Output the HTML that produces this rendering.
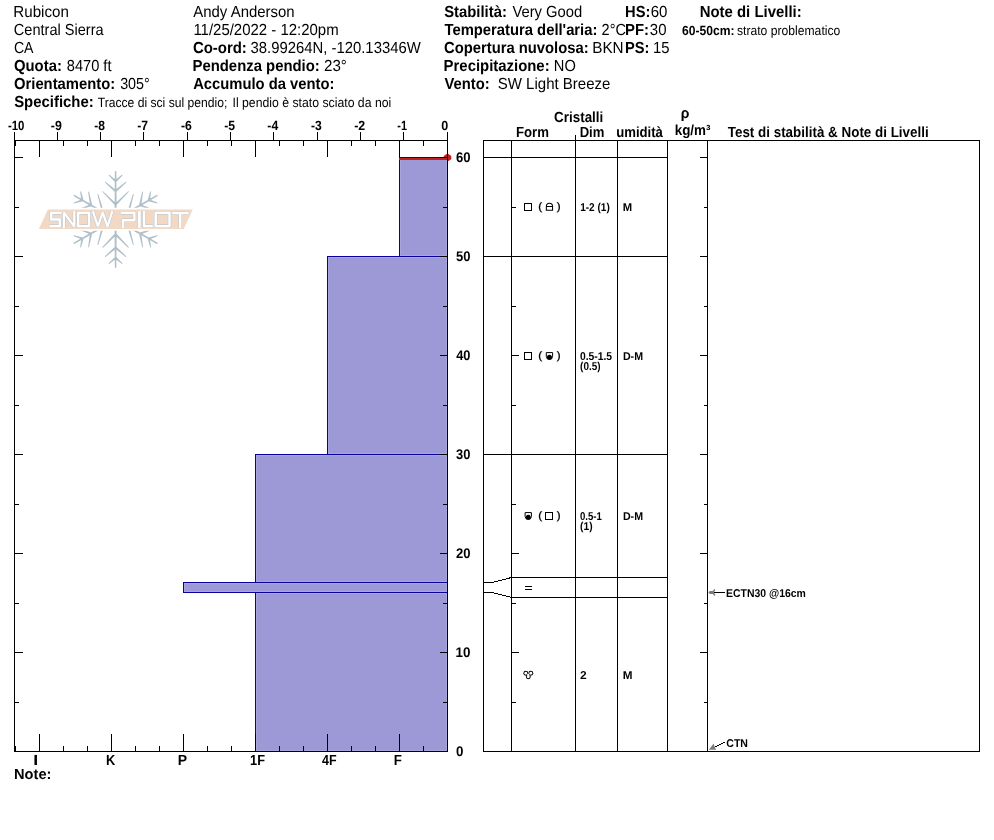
<!DOCTYPE html>
<html><head><meta charset="utf-8"><title>Snow Profile</title>
<style>
html,body{margin:0;padding:0;background:#fff;}
body{width:994px;height:840px;overflow:hidden;font-family:"Liberation Sans",sans-serif;}
svg{display:block;font-family:"Liberation Sans",sans-serif;}
svg text{white-space:pre;text-rendering:geometricPrecision;}
svg{will-change:transform;}
</style></head><body>
<svg width="994" height="840" viewBox="0 0 994 840">
<rect width="994" height="840" fill="#fff"/>
<text x="13.37" y="17" font-size="16" textLength="55.47" lengthAdjust="spacingAndGlyphs">Rubicon</text>
<text x="13.87" y="35" font-size="16" textLength="89.73" lengthAdjust="spacingAndGlyphs">Central Sierra</text>
<text x="13.89" y="53" font-size="16" textLength="19.61" lengthAdjust="spacingAndGlyphs">CA</text>
<text x="14.0" y="71" font-size="16" font-weight="bold" textLength="47.84" lengthAdjust="spacingAndGlyphs">Quota:</text>
<text x="66.81" y="71" font-size="16" textLength="44.68" lengthAdjust="spacingAndGlyphs">8470 ft</text>
<text x="14.0" y="89" font-size="16" font-weight="bold" textLength="101.13" lengthAdjust="spacingAndGlyphs">Orientamento:</text>
<text x="120.16" y="89" font-size="16" textLength="29.59" lengthAdjust="spacingAndGlyphs">305°</text>
<text x="14.18" y="107" font-size="16" font-weight="bold" textLength="79.56" lengthAdjust="spacingAndGlyphs">Specifiche:</text>
<text x="97.73" y="107" font-size="13.33" textLength="129.6" lengthAdjust="spacingAndGlyphs">Tracce di sci sul pendio;</text>
<text x="232.5" y="107" font-size="13.33" textLength="158.78" lengthAdjust="spacingAndGlyphs">Il pendio è stato sciato da noi</text>
<text x="193.3" y="17" font-size="16" textLength="101.31" lengthAdjust="spacingAndGlyphs">Andy Anderson</text>
<text x="193.39" y="35" font-size="16" textLength="145.27" lengthAdjust="spacingAndGlyphs">11/25/2022 - 12:20pm</text>
<text x="192.89" y="53" font-size="16" font-weight="bold" textLength="53.96" lengthAdjust="spacingAndGlyphs">Co-ord:</text>
<text x="250.54" y="53" font-size="16" textLength="170.2" lengthAdjust="spacingAndGlyphs">38.99264N, -120.13346W</text>
<text x="192.52" y="71" font-size="16" font-weight="bold" textLength="127.22" lengthAdjust="spacingAndGlyphs">Pendenza pendio:</text>
<text x="324.04" y="71" font-size="16" textLength="22.85" lengthAdjust="spacingAndGlyphs">23°</text>
<text x="193.13" y="89" font-size="16" font-weight="bold" textLength="141.2" lengthAdjust="spacingAndGlyphs">Accumulo da vento:</text>
<text x="444.18" y="17" font-size="16" font-weight="bold" textLength="62.65" lengthAdjust="spacingAndGlyphs">Stabilità:</text>
<text x="512.45" y="17" font-size="16" textLength="69.85" lengthAdjust="spacingAndGlyphs">Very Good</text>
<text x="625.04" y="17" font-size="16" font-weight="bold" textLength="25.29" lengthAdjust="spacingAndGlyphs">HS:</text>
<text x="650.75" y="17" font-size="16" textLength="16.71" lengthAdjust="spacingAndGlyphs">60</text>
<text x="444.46" y="35" font-size="16" font-weight="bold" textLength="152.94" lengthAdjust="spacingAndGlyphs">Temperatura dell'aria:</text>
<text x="601.57" y="35" font-size="16" textLength="24.37" lengthAdjust="spacingAndGlyphs">2°C</text>
<text x="625.02" y="35" font-size="16" font-weight="bold" textLength="23.91" lengthAdjust="spacingAndGlyphs">PF:</text>
<text x="649.84" y="35" font-size="16" textLength="16.62" lengthAdjust="spacingAndGlyphs">30</text>
<text x="444.0" y="53" font-size="16" font-weight="bold" textLength="144.63" lengthAdjust="spacingAndGlyphs">Copertura nuvolosa:</text>
<text x="592.26" y="53" font-size="16" textLength="31.38" lengthAdjust="spacingAndGlyphs">BKN</text>
<text x="625.04" y="53" font-size="16" font-weight="bold" textLength="24.38" lengthAdjust="spacingAndGlyphs">PS:</text>
<text x="652.99" y="53" font-size="16" textLength="16.52" lengthAdjust="spacingAndGlyphs">15</text>
<text x="443.62" y="71" font-size="16" font-weight="bold" textLength="106.02" lengthAdjust="spacingAndGlyphs">Precipitazione:</text>
<text x="553.81" y="71" font-size="16" textLength="21.98" lengthAdjust="spacingAndGlyphs">NO</text>
<text x="444.51" y="89" font-size="16" font-weight="bold" textLength="45.19" lengthAdjust="spacingAndGlyphs">Vento:</text>
<text x="497.74" y="89" font-size="16" textLength="112.71" lengthAdjust="spacingAndGlyphs">SW Light Breeze</text>
<text x="699.72" y="17" font-size="16" font-weight="bold" textLength="101.92" lengthAdjust="spacingAndGlyphs">Note di Livelli:</text>
<text x="681.99" y="35" font-size="13.33" font-weight="bold" textLength="52.54" lengthAdjust="spacingAndGlyphs">60-50cm:</text>
<text x="736.98" y="35" font-size="13.33" textLength="103.32" lengthAdjust="spacingAndGlyphs">strato problematico</text>
<text x="14.05" y="779" font-size="14.67" font-weight="bold" textLength="37.34" lengthAdjust="spacingAndGlyphs">Note:</text>
<defs><filter id="soft" x="-5%" y="-5%" width="110%" height="110%"><feGaussianBlur stdDeviation="0.35"/></filter></defs>
<g id="logo" filter="url(#soft)">
<path d="M114.45 219.40L114.85 171.30L115.60 170.90L116.35 171.30L116.75 219.40ZM114.87 180.28L121.88 174.85L122.50 174.93L122.52 175.55L116.33 181.92ZM114.87 181.92L108.68 175.55L108.70 174.93L109.32 174.85L116.33 180.28ZM113.70 179.50L115.60 178.30L117.50 179.50L115.60 182.90ZM114.88 190.26L125.69 181.84L126.30 181.94L126.31 182.56L116.32 191.94ZM114.88 191.94L104.89 182.56L104.90 181.94L105.51 181.84L116.32 190.26ZM113.70 189.50L115.60 188.30L117.50 189.50L115.60 192.90ZM114.82 203.83L128.16 191.17L128.78 191.21L128.84 191.83L116.38 205.37ZM114.82 205.37L102.36 191.83L102.42 191.21L103.04 191.17L116.38 203.83ZM113.70 203.00L115.60 201.80L117.50 203.00L115.60 206.40ZM115.02 220.40L73.57 196.00L73.60 195.15L74.32 194.70L116.17 218.40ZM81.35 200.47L80.16 191.68L80.54 191.19L81.09 191.49L83.51 200.03ZM82.77 201.29L74.17 203.47L73.64 203.14L73.87 202.56L82.09 199.21ZM80.10 201.10L80.01 198.85L82.00 197.80L83.99 201.15ZM90.01 205.45L88.12 191.88L88.51 191.40L89.05 191.71L92.17 205.05ZM91.46 206.29L78.34 210.25L77.81 209.94L78.03 209.36L90.73 204.21ZM88.76 206.10L88.67 203.85L90.66 202.80L92.65 206.15ZM101.72 212.29L97.43 194.40L97.78 193.89L98.35 194.15L103.84 211.71ZM103.06 213.06L85.11 217.08L84.60 216.72L84.87 216.16L102.51 210.94ZM100.45 212.85L100.36 210.60L102.35 209.55L104.34 212.90ZM116.17 220.40L74.32 244.10L73.60 243.65L73.57 242.80L115.02 218.40ZM82.09 239.59L73.87 236.24L73.64 235.66L74.17 235.33L82.77 237.51ZM83.51 238.77L81.09 247.31L80.54 247.61L80.16 247.12L81.35 238.33ZM82.00 241.00L80.01 239.95L80.10 237.70L83.99 237.65ZM90.73 234.59L78.03 229.44L77.81 228.86L78.34 228.55L91.46 232.51ZM92.17 233.75L89.05 247.09L88.51 247.40L88.12 246.92L90.01 233.35ZM90.66 236.00L88.67 234.95L88.76 232.70L92.65 232.65ZM102.51 227.86L84.87 222.64L84.60 222.08L85.11 221.72L103.06 225.74ZM103.84 227.09L98.35 244.65L97.78 244.91L97.43 244.40L101.72 226.51ZM102.35 229.25L100.36 228.20L100.45 225.95L104.34 225.90ZM116.75 219.40L116.35 267.50L115.60 267.90L114.85 267.50L114.45 219.40ZM116.33 258.52L109.32 263.95L108.70 263.87L108.68 263.25L114.87 256.88ZM116.33 256.88L122.52 263.25L122.50 263.87L121.88 263.95L114.87 258.52ZM117.50 259.30L115.60 260.50L113.70 259.30L115.60 255.90ZM116.32 248.54L105.51 256.96L104.90 256.86L104.89 256.24L114.88 246.86ZM116.32 246.86L126.31 256.24L126.30 256.86L125.69 256.96L114.88 248.54ZM117.50 249.30L115.60 250.50L113.70 249.30L115.60 245.90ZM116.38 234.97L103.04 247.63L102.42 247.59L102.36 246.97L114.82 233.43ZM116.38 233.43L128.84 246.97L128.78 247.59L128.16 247.63L114.82 234.97ZM117.50 235.80L115.60 237.00L113.70 235.80L115.60 232.40ZM116.17 218.40L157.63 242.80L157.60 243.65L156.88 244.10L115.02 220.40ZM149.85 238.33L151.04 247.12L150.66 247.61L150.11 247.31L147.69 238.77ZM148.43 237.51L157.03 235.33L157.56 235.66L157.33 236.24L149.11 239.59ZM151.10 237.70L151.19 239.95L149.20 241.00L147.21 237.65ZM141.19 233.35L143.08 246.92L142.69 247.40L142.15 247.09L139.03 233.75ZM139.74 232.51L152.86 228.55L153.39 228.86L153.17 229.44L140.47 234.59ZM142.44 232.70L142.53 234.95L140.54 236.00L138.55 232.65ZM129.48 226.51L133.77 244.40L133.42 244.91L132.85 244.65L127.36 227.09ZM128.14 225.74L146.09 221.72L146.60 222.08L146.33 222.64L128.69 227.86ZM130.75 225.95L130.84 228.20L128.85 229.25L126.86 225.90ZM115.02 218.40L156.88 194.70L157.60 195.15L157.63 196.00L116.17 220.40ZM149.11 199.21L157.33 202.56L157.56 203.14L157.03 203.47L148.43 201.29ZM147.69 200.03L150.11 191.49L150.66 191.19L151.04 191.68L149.85 200.47ZM149.20 197.80L151.19 198.85L151.10 201.10L147.21 201.15ZM140.47 204.21L153.17 209.36L153.39 209.94L152.86 210.25L139.74 206.29ZM139.03 205.05L142.15 191.71L142.69 191.40L143.08 191.88L141.19 205.45ZM140.54 202.80L142.53 203.85L142.44 206.10L138.55 206.15ZM128.69 210.94L146.33 216.16L146.60 216.72L146.09 217.08L128.14 213.06ZM127.36 211.71L132.85 194.15L133.42 193.89L133.77 194.40L129.48 212.29ZM128.85 209.55L130.84 210.60L130.75 212.85L126.86 212.90Z" fill="#b0c0ca" stroke="none"/>
<polygon points="45.4,207.7 195.6,207.7 184.8,230.8 34.6,230.8" fill="#fff"/>
<polygon points="47.9,209.5 192.8,209.5 183.7,229 38.8,229" fill="#f1d9c5"/>
<path d="M61.50 212.80L51.20 212.80L51.20 219.60L59.80 219.60L59.80 226.20L49.50 226.20M78.20 212.80L89.10 212.80L89.10 226.20L78.20 226.20L78.20 212.80L89.10 212.80M123.00 227.90L123.00 220.20L134.40 220.20L134.40 212.80L121.10 212.80M144.05 211.10L144.05 226.20L152.80 226.20M155.70 212.80L169.50 212.80L169.50 226.20L155.70 226.20L155.70 212.80L169.50 212.80M172.20 212.90L188.70 212.90M180.20 212.80L180.20 227.90" stroke="#b6c2cc" stroke-width="3.4" fill="none" stroke-linejoin="round"/>
<path d="M63.90 227.90L63.90 212.40L74.30 226.60L74.30 211.10M92.90 211.10L97.90 226.50L102.60 212.50L107.60 226.50L112.30 211.10" stroke="#b6c2cc" stroke-width="3.2" fill="none" stroke-linejoin="bevel"/>
<path d="M139.30 211.10L139.30 227.90" stroke="#b6c2cc" stroke-width="3.9" fill="none"/>
<path d="M61.50 212.80L51.20 212.80L51.20 219.60L59.80 219.60L59.80 226.20L49.50 226.20M78.20 212.80L89.10 212.80L89.10 226.20L78.20 226.20L78.20 212.80L89.10 212.80M123.00 227.90L123.00 220.20L134.40 220.20L134.40 212.80L121.10 212.80M144.05 211.10L144.05 226.20L152.80 226.20M155.70 212.80L169.50 212.80L169.50 226.20L155.70 226.20L155.70 212.80L169.50 212.80M172.20 212.90L188.70 212.90M180.20 212.80L180.20 227.90" stroke="#fff" stroke-width="2.5" fill="none" stroke-linejoin="round"/>
<path d="M63.90 227.90L63.90 212.40L74.30 226.60L74.30 211.10M92.90 211.10L97.90 226.50L102.60 212.50L107.60 226.50L112.30 211.10" stroke="#fff" stroke-width="2.3" fill="none" stroke-linejoin="bevel"/>
<path d="M139.30 211.10L139.30 227.90" stroke="#fff" stroke-width="3.0" fill="none"/>
</g>
<polygon points="447,153.8 448,153.8 451.3,156.1 451.3,159.3 448,161.3 447,161.3 443.7,159.3 443.7,156.1" fill="#bf1f1f"/>
<g id="chart" shape-rendering="crispEdges">
<rect x="399.5" y="157.5" width="48" height="99" fill="#9c99d6" stroke="#0a00a0" stroke-width="1"/>
<rect x="400.5" y="158.5" width="46" height="97" fill="none" stroke="#a8a6dd" stroke-width="1"/>
<rect x="327.5" y="256.5" width="120" height="198" fill="#9c99d6" stroke="#0a00a0" stroke-width="1"/>
<rect x="328.5" y="257.5" width="118" height="196" fill="none" stroke="#a8a6dd" stroke-width="1"/>
<rect x="255.5" y="454.5" width="192" height="128" fill="#9c99d6" stroke="#0a00a0" stroke-width="1"/>
<rect x="256.5" y="455.5" width="190" height="126" fill="none" stroke="#a8a6dd" stroke-width="1"/>
<rect x="183.5" y="582.5" width="264" height="10" fill="#9c99d6" stroke="#0a00a0" stroke-width="1"/>
<rect x="184.5" y="583.5" width="262" height="8" fill="none" stroke="#a8a6dd" stroke-width="1"/>
<rect x="255.5" y="592.5" width="192" height="159" fill="#9c99d6" stroke="#0a00a0" stroke-width="1"/>
<rect x="256.5" y="593.5" width="190" height="157" fill="none" stroke="#a8a6dd" stroke-width="1"/>
<rect x="14" y="140" width="1" height="612" fill="#000"/>
<rect x="14" y="140" width="434" height="1" fill="#000"/>
<rect x="14" y="751" width="434" height="1" fill="#000"/>
<rect x="447" y="132" width="1" height="620" fill="#000"/>
<rect x="14" y="132" width="1" height="9" fill="#000"/>
<rect x="57" y="132" width="1" height="9" fill="#000"/>
<rect x="100" y="132" width="1" height="9" fill="#000"/>
<rect x="143" y="132" width="1" height="9" fill="#000"/>
<rect x="187" y="132" width="1" height="9" fill="#000"/>
<rect x="230" y="132" width="1" height="9" fill="#000"/>
<rect x="273" y="132" width="1" height="9" fill="#000"/>
<rect x="317" y="132" width="1" height="9" fill="#000"/>
<rect x="360" y="132" width="1" height="9" fill="#000"/>
<rect x="403" y="132" width="1" height="9" fill="#000"/>
<rect x="447" y="132" width="1" height="9" fill="#000"/>
<rect x="15" y="141" width="1" height="5" fill="#000"/>
<rect x="15" y="746" width="1" height="5" fill="#000"/>
<rect x="39" y="141" width="1" height="16" fill="#000"/>
<rect x="39" y="734" width="1" height="17" fill="#000"/>
<rect x="63" y="141" width="1" height="5" fill="#000"/>
<rect x="63" y="746" width="1" height="5" fill="#000"/>
<rect x="87" y="141" width="1" height="5" fill="#000"/>
<rect x="87" y="746" width="1" height="5" fill="#000"/>
<rect x="111" y="141" width="1" height="16" fill="#000"/>
<rect x="111" y="734" width="1" height="17" fill="#000"/>
<rect x="135" y="141" width="1" height="5" fill="#000"/>
<rect x="135" y="746" width="1" height="5" fill="#000"/>
<rect x="159" y="141" width="1" height="5" fill="#000"/>
<rect x="159" y="746" width="1" height="5" fill="#000"/>
<rect x="183" y="141" width="1" height="16" fill="#000"/>
<rect x="183" y="734" width="1" height="17" fill="#000"/>
<rect x="207" y="141" width="1" height="5" fill="#000"/>
<rect x="207" y="746" width="1" height="5" fill="#000"/>
<rect x="231" y="141" width="1" height="5" fill="#000"/>
<rect x="231" y="746" width="1" height="5" fill="#000"/>
<rect x="255" y="141" width="1" height="16" fill="#000"/>
<rect x="255" y="734" width="1" height="17" fill="#000"/>
<rect x="279" y="141" width="1" height="5" fill="#000"/>
<rect x="279" y="746" width="1" height="5" fill="#000"/>
<rect x="303" y="141" width="1" height="5" fill="#000"/>
<rect x="303" y="746" width="1" height="5" fill="#000"/>
<rect x="327" y="141" width="1" height="16" fill="#000"/>
<rect x="327" y="734" width="1" height="17" fill="#000"/>
<rect x="351" y="141" width="1" height="5" fill="#000"/>
<rect x="351" y="746" width="1" height="5" fill="#000"/>
<rect x="375" y="141" width="1" height="5" fill="#000"/>
<rect x="375" y="746" width="1" height="5" fill="#000"/>
<rect x="399" y="141" width="1" height="16" fill="#000"/>
<rect x="399" y="734" width="1" height="17" fill="#000"/>
<rect x="423" y="141" width="1" height="5" fill="#000"/>
<rect x="423" y="746" width="1" height="5" fill="#000"/>
<rect x="447" y="141" width="1" height="5" fill="#000"/>
<rect x="447" y="746" width="1" height="5" fill="#000"/>
<rect x="15" y="702" width="4" height="1" fill="#000"/>
<rect x="443" y="702" width="4" height="1" fill="#000"/>
<rect x="15" y="652" width="8" height="1" fill="#000"/>
<rect x="440" y="652" width="7" height="1" fill="#000"/>
<rect x="15" y="603" width="4" height="1" fill="#000"/>
<rect x="443" y="603" width="4" height="1" fill="#000"/>
<rect x="15" y="553" width="8" height="1" fill="#000"/>
<rect x="440" y="553" width="7" height="1" fill="#000"/>
<rect x="15" y="504" width="4" height="1" fill="#000"/>
<rect x="443" y="504" width="4" height="1" fill="#000"/>
<rect x="15" y="454" width="8" height="1" fill="#000"/>
<rect x="440" y="454" width="7" height="1" fill="#000"/>
<rect x="15" y="405" width="4" height="1" fill="#000"/>
<rect x="443" y="405" width="4" height="1" fill="#000"/>
<rect x="15" y="355" width="8" height="1" fill="#000"/>
<rect x="440" y="355" width="7" height="1" fill="#000"/>
<rect x="15" y="306" width="4" height="1" fill="#000"/>
<rect x="443" y="306" width="4" height="1" fill="#000"/>
<rect x="15" y="256" width="8" height="1" fill="#000"/>
<rect x="440" y="256" width="7" height="1" fill="#000"/>
<rect x="15" y="207" width="4" height="1" fill="#000"/>
<rect x="443" y="207" width="4" height="1" fill="#000"/>
<rect x="15" y="157" width="8" height="1" fill="#000"/>
<rect x="440" y="157" width="7" height="1" fill="#000"/>
<rect x="399" y="158" width="48" height="2" fill="#bf1f1f"/>
<rect x="447" y="150" width="1" height="16" fill="#000"/>
</g>
<rect x="447" y="150" width="1" height="15" fill="#000" shape-rendering="crispEdges"/><rect x="440" y="157" width="7" height="1" fill="#000" shape-rendering="crispEdges"/>
<text x="7.97" y="130" font-size="13.33" font-weight="bold" textLength="16.5" lengthAdjust="spacingAndGlyphs">-10</text>
<text x="50.84" y="130" font-size="13.33" font-weight="bold" textLength="11.03" lengthAdjust="spacingAndGlyphs">-9</text>
<text x="94.15" y="130" font-size="13.33" font-weight="bold" textLength="10.71" lengthAdjust="spacingAndGlyphs">-8</text>
<text x="137.15" y="130" font-size="13.33" font-weight="bold" textLength="10.8" lengthAdjust="spacingAndGlyphs">-7</text>
<text x="181.04" y="130" font-size="13.33" font-weight="bold" textLength="10.92" lengthAdjust="spacingAndGlyphs">-6</text>
<text x="224.14" y="130" font-size="13.33" font-weight="bold" textLength="10.88" lengthAdjust="spacingAndGlyphs">-5</text>
<text x="267.34" y="130" font-size="13.33" font-weight="bold" textLength="10.9" lengthAdjust="spacingAndGlyphs">-4</text>
<text x="311.05" y="130" font-size="13.33" font-weight="bold" textLength="10.81" lengthAdjust="spacingAndGlyphs">-3</text>
<text x="354.23" y="130" font-size="13.33" font-weight="bold" textLength="11.08" lengthAdjust="spacingAndGlyphs">-2</text>
<text x="397.29" y="130" font-size="13.33" font-weight="bold" textLength="9.69" lengthAdjust="spacingAndGlyphs">-1</text>
<text x="441.23" y="130" font-size="13.33" font-weight="bold" textLength="6.98" lengthAdjust="spacingAndGlyphs">0</text>
<text x="455.97" y="756" font-size="14" font-weight="bold" textLength="7.45" lengthAdjust="spacingAndGlyphs">0</text>
<text x="455.59" y="657" font-size="14" font-weight="bold" textLength="14.94" lengthAdjust="spacingAndGlyphs">10</text>
<text x="455.98" y="558" font-size="14" font-weight="bold" textLength="14.53" lengthAdjust="spacingAndGlyphs">20</text>
<text x="456.12" y="459" font-size="14" font-weight="bold" textLength="14.38" lengthAdjust="spacingAndGlyphs">30</text>
<text x="456.22" y="360" font-size="14" font-weight="bold" textLength="14.29" lengthAdjust="spacingAndGlyphs">40</text>
<text x="456.03" y="261" font-size="14" font-weight="bold" textLength="14.48" lengthAdjust="spacingAndGlyphs">50</text>
<text x="455.93" y="162" font-size="14" font-weight="bold" textLength="14.58" lengthAdjust="spacingAndGlyphs">60</text>
<text x="33.35" y="765" font-size="14.67" font-weight="bold" textLength="4.9" lengthAdjust="spacingAndGlyphs">I</text>
<text x="105.97" y="765" font-size="14.67" font-weight="bold" textLength="9.26" lengthAdjust="spacingAndGlyphs">K</text>
<text x="177.79" y="765" font-size="14.67" font-weight="bold" textLength="9.34" lengthAdjust="spacingAndGlyphs">P</text>
<text x="250.11" y="765" font-size="14.67" font-weight="bold" textLength="14.92" lengthAdjust="spacingAndGlyphs">1F</text>
<text x="321.93" y="765" font-size="14.67" font-weight="bold" textLength="14.6" lengthAdjust="spacingAndGlyphs">4F</text>
<text x="393.74" y="765" font-size="14.67" font-weight="bold" textLength="8.11" lengthAdjust="spacingAndGlyphs">F</text>
<g id="table" shape-rendering="crispEdges">
<rect x="483" y="140" width="497" height="1" fill="#000"/>
<rect x="483" y="751" width="497" height="1" fill="#000"/>
<rect x="483" y="140" width="1" height="612" fill="#000"/>
<rect x="979" y="140" width="1" height="612" fill="#000"/>
<rect x="511" y="140" width="1" height="612" fill="#000"/>
<rect x="575" y="135" width="1" height="617" fill="#000"/>
<rect x="617" y="140" width="1" height="612" fill="#000"/>
<rect x="667" y="140" width="1" height="612" fill="#000"/>
<rect x="707" y="140" width="1" height="612" fill="#000"/>
<rect x="483" y="157" width="185" height="1" fill="#000"/>
<rect x="483" y="256" width="185" height="1" fill="#000"/>
<rect x="483" y="454" width="185" height="1" fill="#000"/>
<rect x="511" y="577" width="157" height="1" fill="#000"/>
<rect x="511" y="597" width="157" height="1" fill="#000"/>
<rect x="483" y="582" width="10" height="1" fill="#000"/>
<rect x="483" y="592" width="10" height="1" fill="#000"/>
<rect x="512" y="702" width="4" height="1" fill="#000"/>
<rect x="704" y="702" width="3" height="1" fill="#000"/>
<rect x="512" y="652" width="7" height="1" fill="#000"/>
<rect x="700" y="652" width="7" height="1" fill="#000"/>
<rect x="512" y="603" width="4" height="1" fill="#000"/>
<rect x="704" y="603" width="3" height="1" fill="#000"/>
<rect x="512" y="553" width="7" height="1" fill="#000"/>
<rect x="700" y="553" width="7" height="1" fill="#000"/>
<rect x="512" y="504" width="4" height="1" fill="#000"/>
<rect x="704" y="504" width="3" height="1" fill="#000"/>
<rect x="512" y="454" width="7" height="1" fill="#000"/>
<rect x="700" y="454" width="7" height="1" fill="#000"/>
<rect x="512" y="405" width="4" height="1" fill="#000"/>
<rect x="704" y="405" width="3" height="1" fill="#000"/>
<rect x="512" y="355" width="7" height="1" fill="#000"/>
<rect x="700" y="355" width="7" height="1" fill="#000"/>
<rect x="512" y="306" width="4" height="1" fill="#000"/>
<rect x="704" y="306" width="3" height="1" fill="#000"/>
<rect x="512" y="256" width="7" height="1" fill="#000"/>
<rect x="700" y="256" width="7" height="1" fill="#000"/>
<rect x="512" y="207" width="4" height="1" fill="#000"/>
<rect x="704" y="207" width="3" height="1" fill="#000"/>
<rect x="700" y="157" width="7" height="1" fill="#000"/>
</g>
<path d="M492.5 582.5L511.5 577.5M492.5 592.5L511.5 597.5" stroke="#000" stroke-width="1" fill="none" shape-rendering="crispEdges"/>
<text x="554.05" y="122" font-size="14.67" font-weight="bold" textLength="49.27" lengthAdjust="spacingAndGlyphs">Cristalli</text>
<text x="515.95" y="137" font-size="14.67" font-weight="bold" textLength="32.96" lengthAdjust="spacingAndGlyphs">Form</text>
<text x="579.65" y="137" font-size="14.67" font-weight="bold" textLength="24.75" lengthAdjust="spacingAndGlyphs">Dim</text>
<text x="616.19" y="137" font-size="14.67" font-weight="bold" textLength="46.76" lengthAdjust="spacingAndGlyphs">umidità</text>
<text x="680.79" y="118" font-size="14.67" font-weight="bold" textLength="8.64" lengthAdjust="spacingAndGlyphs">ρ</text>
<text x="674.68" y="135" font-size="14.67" font-weight="bold" textLength="35.79" lengthAdjust="spacingAndGlyphs">kg/m³</text>
<text x="727.76" y="137" font-size="14.67" font-weight="bold" textLength="200.93" lengthAdjust="spacingAndGlyphs">Test di stabilità &amp; Note di Livelli</text>
<text x="580.18" y="211" font-size="11.33" font-weight="bold" textLength="29.61" lengthAdjust="spacingAndGlyphs">1-2 (1)</text>
<text x="622.85" y="211" font-size="11.33" font-weight="bold" textLength="9.39" lengthAdjust="spacingAndGlyphs">M</text>
<text x="579.94" y="360" font-size="11.33" font-weight="bold" textLength="32.14" lengthAdjust="spacingAndGlyphs">0.5-1.5</text>
<text x="580.12" y="370" font-size="11.33" font-weight="bold" textLength="20.46" lengthAdjust="spacingAndGlyphs">(0.5)</text>
<text x="622.9" y="360" font-size="11.33" font-weight="bold" textLength="20.11" lengthAdjust="spacingAndGlyphs">D-M</text>
<text x="579.96" y="520" font-size="11.33" font-weight="bold" textLength="21.89" lengthAdjust="spacingAndGlyphs">0.5-1</text>
<text x="580.11" y="530" font-size="11.33" font-weight="bold" textLength="12.49" lengthAdjust="spacingAndGlyphs">(1)</text>
<text x="622.9" y="520" font-size="11.33" font-weight="bold" textLength="20.11" lengthAdjust="spacingAndGlyphs">D-M</text>
<text x="580.03" y="679" font-size="11.33" font-weight="bold" textLength="6.7" lengthAdjust="spacingAndGlyphs">2</text>
<text x="622.83" y="679" font-size="11.33" font-weight="bold" textLength="9.75" lengthAdjust="spacingAndGlyphs">M</text>
<text x="726.01" y="597" font-size="11.33" font-weight="bold" textLength="79.84" lengthAdjust="spacingAndGlyphs">ECTN30 @16cm</text>
<text x="726.28" y="747" font-size="11.33" font-weight="bold" textLength="21.72" lengthAdjust="spacingAndGlyphs">CTN</text>
<rect x="713" y="592" width="12" height="1" fill="#000" shape-rendering="crispEdges"/>
<polygon points="708.4,592.5 709.8,591 712.8,591 714.5,589.1 715.4,589.9 713.9,592.5 715.4,595.1 714.5,595.9 712.8,594 709.8,594" fill="#7c7c7c"/>
<path d="M723 742h2v1h-2zM721 743h2v1h-2zM719 744h2v1h-2zM717 745h2v1h-2zM715 746h2v1h-2zM714 747h1v1h-1z" fill="#000" shape-rendering="crispEdges"/>
<polygon points="708.8,749.8 713.7,743.6 714.6,747.0 716.2,749.8" fill="#7c7c7c"/>
<rect x="524.5" y="203.5" width="7" height="7" fill="none" stroke="#000" stroke-width="1" shape-rendering="crispEdges"/>
<text x="538.19" y="210.3" font-size="10.67" textLength="3.86" lengthAdjust="spacingAndGlyphs" stroke="#000" stroke-width="0.3">(</text>
<text x="556.85" y="210.3" font-size="10.67" textLength="3.86" lengthAdjust="spacingAndGlyphs" stroke="#000" stroke-width="0.3">)</text>
<path d="M546.3499999999999 210.15V206.4A3.1 3.1 0 0 1 552.55 206.4V210.15Z M546.3499999999999 206.4H552.55" fill="none" stroke="#000" stroke-width="1.05"/>
<rect x="524.5" y="352.5" width="7" height="7" fill="none" stroke="#000" stroke-width="1" shape-rendering="crispEdges"/>
<text x="538.19" y="359.3" font-size="10.67" textLength="3.86" lengthAdjust="spacingAndGlyphs" stroke="#000" stroke-width="0.3">(</text>
<text x="556.85" y="359.3" font-size="10.67" textLength="3.86" lengthAdjust="spacingAndGlyphs" stroke="#000" stroke-width="0.3">)</text>
<path d="M546.3000000000001 352.6H552.6V356.3A3.15 3.15 0 0 1 546.3000000000001 356.3Z" fill="none" stroke="#000" stroke-width="1.0"/>
<circle cx="549.45" cy="357.3" r="2.5" fill="#000"/>
<path d="M525.1 512.6H531.4V516.3A3.15 3.15 0 0 1 525.1 516.3Z" fill="none" stroke="#000" stroke-width="1.0"/>
<circle cx="528.25" cy="517.3" r="2.5" fill="#000"/>
<text x="538.19" y="519.3" font-size="10.67" textLength="3.86" lengthAdjust="spacingAndGlyphs" stroke="#000" stroke-width="0.3">(</text>
<text x="556.85" y="519.3" font-size="10.67" textLength="3.86" lengthAdjust="spacingAndGlyphs" stroke="#000" stroke-width="0.3">)</text>
<rect x="545.5" y="512.5" width="7" height="7" fill="none" stroke="#000" stroke-width="1" shape-rendering="crispEdges"/>
<rect x="525" y="586" width="7" height="1" fill="#000"/><rect x="525" y="589" width="7" height="1" fill="#000"/>
<circle cx="525.80" cy="673.30" r="2.45" fill="#000"/>
<circle cx="530.80" cy="673.30" r="2.45" fill="#000"/>
<circle cx="528.30" cy="676.70" r="2.45" fill="#000"/>
<circle cx="525.80" cy="673.30" r="1.45" fill="#fff"/>
<circle cx="530.80" cy="673.30" r="1.45" fill="#fff"/>
<circle cx="528.30" cy="676.70" r="1.45" fill="#fff"/>
<circle cx="528.3" cy="674.9" r="1.2" fill="#fff"/>
</svg>
</body></html>
